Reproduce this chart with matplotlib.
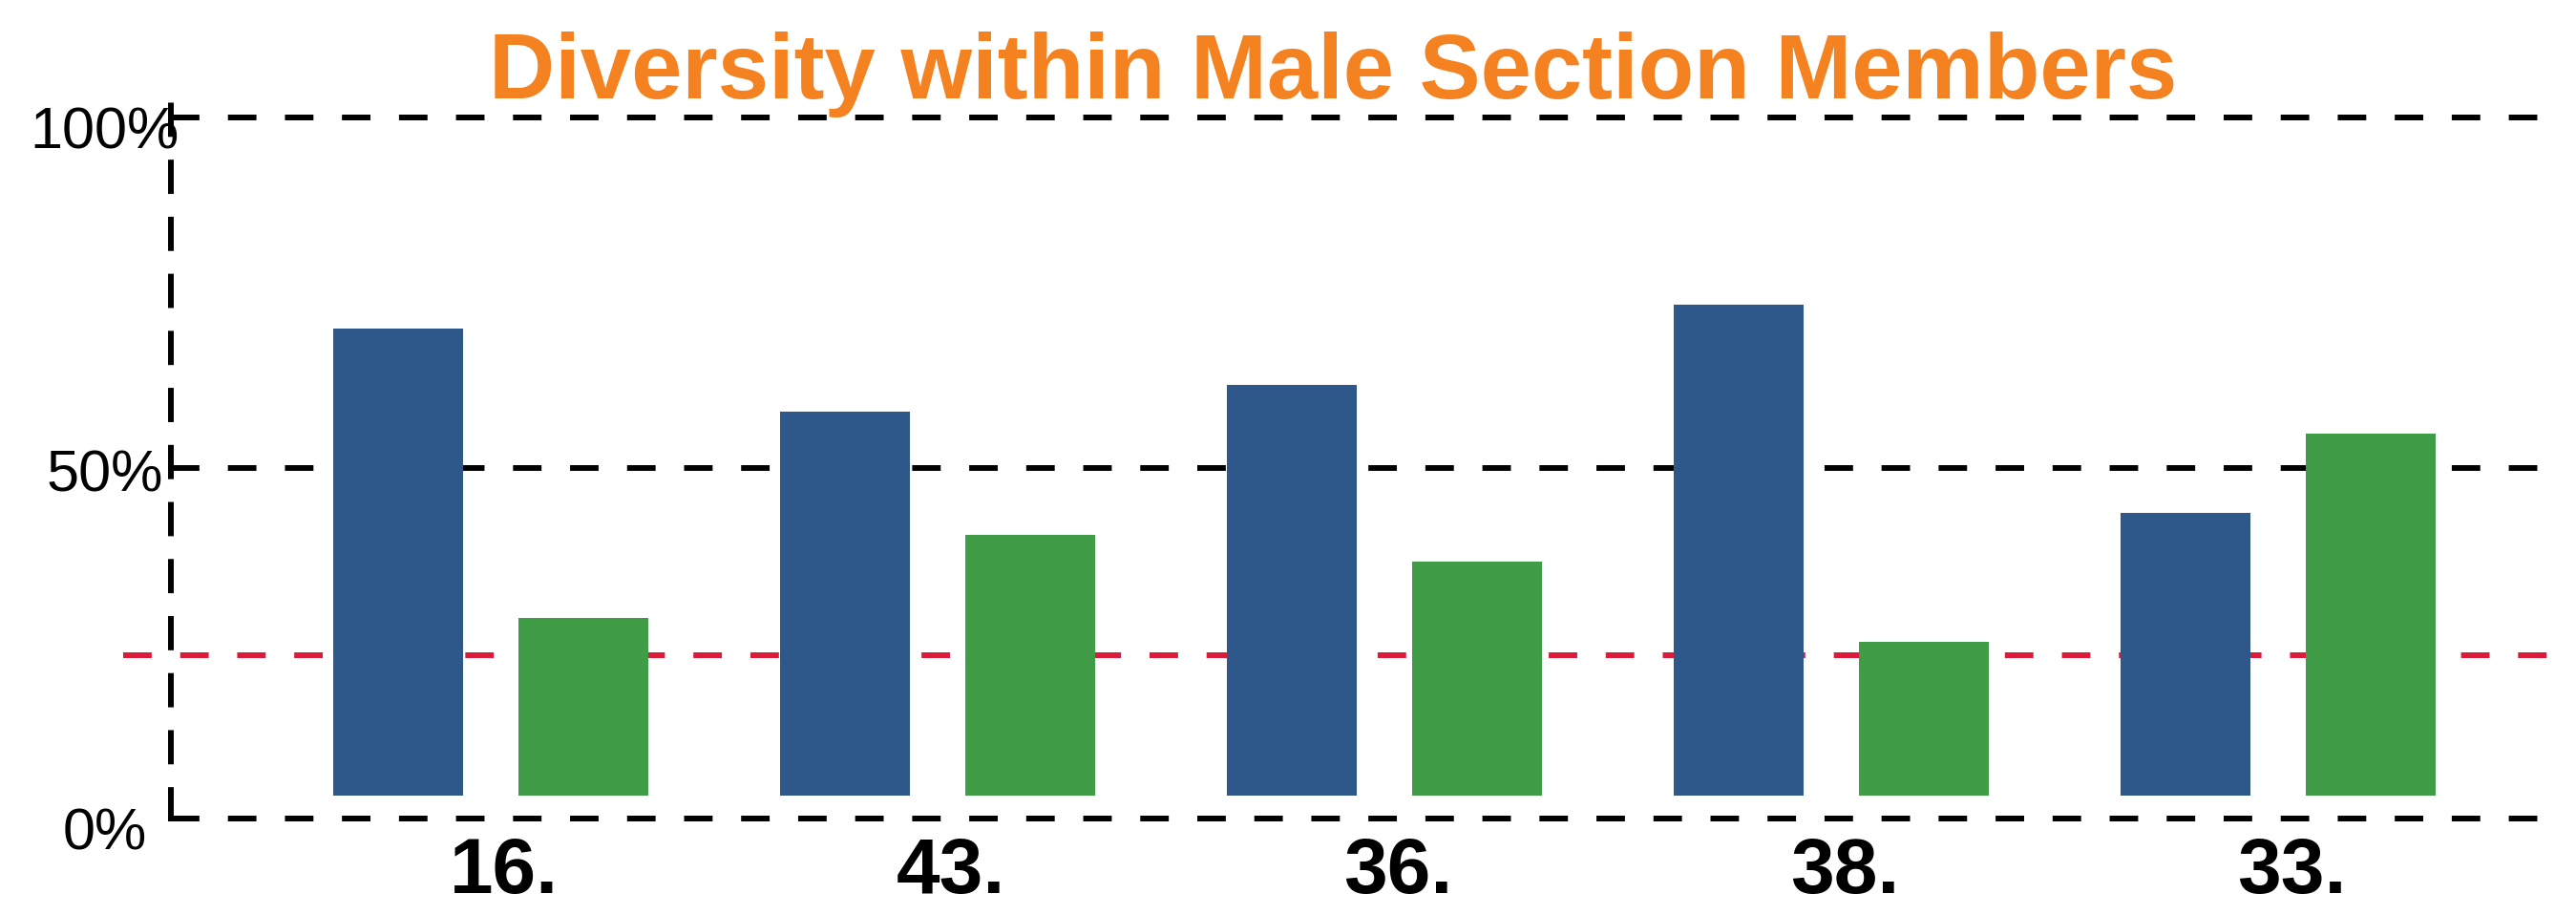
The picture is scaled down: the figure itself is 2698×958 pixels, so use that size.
"""
Diversity within Male Section Members - grouped bar chart.
"""
import matplotlib
matplotlib.use('Agg')
import matplotlib.pyplot as plt
import matplotlib.transforms as mtransforms
import numpy as np

plt.rcParams['font.family'] = ['Liberation Sans', 'DejaVu Sans']

# Data (share of members, percent)
sections = ['16.', '43.', '36.', '38.', '33.']
blue_share = [72.4, 59.5, 63.7, 76.2, 43.9]
green_share = [27.6, 40.5, 36.3, 23.8, 56.1]
reference_share = 21.8
grid_ticks = [0, 50, 100]
grid_labels = ['0%', '50%', '100%']

BLUE = '#2D5889'
GREEN = '#419C47'
RED = '#DC1A3A'
ORANGE = '#F58220'


def plot_diversity():
    fig = plt.figure(figsize=(26.98, 9.58), dpi=100)
    ax = fig.add_axes([0.06635, 0.10543, 0.92216, 0.78706])

    x = np.arange(len(sections))
    width = 0.29
    offset = 0.207

    # gridline axis (tick labels + dashed lines)
    ax.set_xlim(-0.716, 4.600)
    ax.set_ylim(0, 102.72)
    ax.set_yticks(grid_ticks)
    ax.set_yticklabels(grid_labels, fontsize=44)
    ax.tick_params(axis='y', length=0, pad=49.7)
    # labels sit a little below their lines in the original
    drops = [-11, -3, -11]
    for lab, d in zip(ax.get_yticklabels(), drops):
        lab.set_horizontalalignment('center')
        lab.set_transform(lab.get_transform() +
                          mtransforms.ScaledTranslation(0, d / 100, fig.dpi_scale_trans))
    ax.grid(axis='y', color='black', linewidth=4.3, linestyle=(0, (5, 5)))
    for gl in ax.get_ygridlines():
        gl.set_clip_on(False)
    ax.set_axisbelow(True)
    for side in ['top', 'right', 'bottom']:
        ax.spines[side].set_visible(False)
    ax.spines['left'].set_linewidth(4.3)
    ax.spines['left'].set_linestyle((0, (5, 5)))

    ax.set_xticks(x)
    ax.set_xticklabels(sections, fontsize=59, fontweight='bold')
    ax.tick_params(axis='x', length=0, pad=14)
    shift = mtransforms.ScaledTranslation(14 / 100, 0, fig.dpi_scale_trans)
    for lab in ax.get_xticklabels():
        lab.set_transform(lab.get_transform() + shift)

    # bar axis
    axb = ax.twinx()
    axb.set_ylim(-3.556, 108.15)
    axb.set_yticks([])
    for side in axb.spines:
        axb.spines[side].set_visible(False)

    axb.axhline(reference_share, xmin=-0.0201, xmax=1.0048, color=RED,
                linewidth=4.3, linestyle=(0, (5, 5)), clip_on=False, zorder=1)
    axb.bar(x - offset, blue_share, width, color=BLUE, zorder=3)
    axb.bar(x + offset, green_share, width, color=GREEN, zorder=3)

    fig.text(0.5174, 0.8925, 'Diversity within Male Section Members',
             fontsize=69, fontweight='bold', color=ORANGE,
             ha='center', va='baseline')

    fig.savefig('out.png', dpi=100)
    plt.close(fig)


if __name__ == "__main__":
    plot_diversity()
